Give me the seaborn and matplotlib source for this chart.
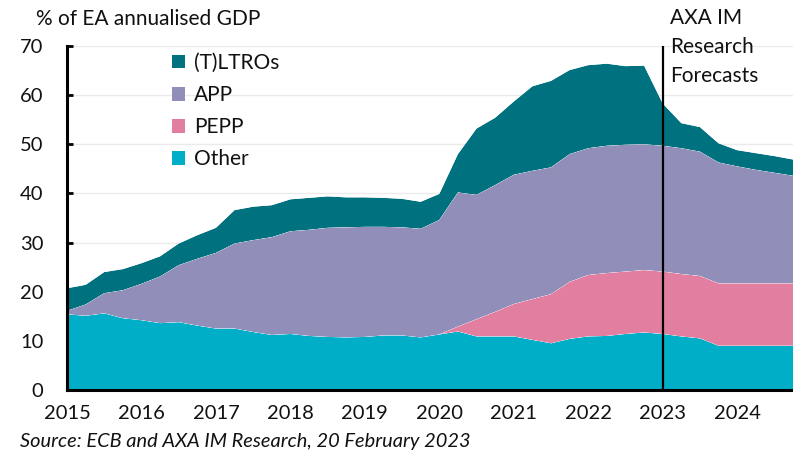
import numpy as np
import pandas as pd
import matplotlib
matplotlib.use("Agg")
import matplotlib.pyplot as plt
from matplotlib.patches import Patch
import seaborn as sns
import seaborn.objects as so

sns.set_theme(style="white")
plt.rcParams['font.family'] = ['Lato', 'DejaVu Sans']

# ---- data (quarterly, % of EA annualised GDP) ----
quarters = pd.period_range("2015Q1", "2024Q4", freq="Q")
other = [15.4, 15.1, 15.6, 14.6, 14.2, 13.6, 13.8, 13.1, 12.5, 12.5,
         11.8, 11.2, 11.4, 11.0, 10.8, 10.7, 10.8, 11.1, 11.1, 10.7,
         11.3, 11.9, 10.9, 10.9, 10.9, 10.2, 9.5, 10.4, 10.9, 11.0,
         11.4, 11.7, 11.4, 10.9, 10.5, 9.0, 9.0, 9.0, 9.0, 9.0]
pepp = [0, 0, 0, 0, 0, 0, 0, 0, 0, 0,
        0, 0, 0, 0, 0, 0, 0, 0, 0, 0,
        0.0, 1.0, 3.5, 5.0, 6.6, 8.3, 10.0, 11.6, 12.5, 12.8,
        12.7, 12.7, 12.7, 12.7, 12.7, 12.7, 12.7, 12.7, 12.7, 12.7]
app = [0.7, 2.3, 4.1, 5.7, 7.4, 9.5, 11.6, 13.6, 15.4, 17.3,
       18.7, 19.9, 20.9, 21.6, 22.2, 22.4, 22.4, 22.1, 22.0, 22.1,
       23.3, 27.3, 25.3, 25.8, 26.3, 26.1, 25.8, 26.0, 25.8, 25.9,
       25.8, 25.6, 25.6, 25.6, 25.3, 24.6, 23.8, 23.1, 22.5, 21.9]
ltro = [4.6, 4.0, 4.3, 4.3, 4.2, 4.1, 4.4, 4.8, 5.1, 6.8,
        6.8, 6.5, 6.5, 6.5, 6.4, 6.1, 6.0, 5.9, 5.8, 5.5,
        5.3, 7.8, 13.5, 13.7, 14.9, 17.2, 17.6, 17.1, 16.9, 16.7,
        16.0, 16.0, 8.6, 5.1, 5.0, 3.9, 3.3, 3.4, 3.4, 3.3]
series_names = ["Other", "PEPP", "APP", "(T)LTROs"]
series_colors = ["#00AEC7", "#E27FA0", "#918FBA", "#00717E"]
year_ticks = list(range(2015, 2025))
forecast_start = 2023.0

xq = [q.year + (q.quarter - 1) / 4 for q in quarters]
frames = []
for name, vals in zip(series_names, [other, pepp, app, ltro]):
    frames.append(pd.DataFrame({"x": xq, "value": vals, "series": name}))
df = pd.concat(frames, ignore_index=True)

W, H = 793, 453
fig = plt.figure(figsize=(W / 100, H / 100), dpi=100)
ax = fig.add_axes([67 / W, 1 - 390 / H, (W - 67) / W, (390 - 46) / H])

(
    so.Plot(df, x="x", y="value", color="series")
    .add(so.Area(alpha=1, edgewidth=0), so.Stack())
    .scale(color=so.Nominal(dict(zip(series_names, series_colors)), order=series_names))
    .on(ax)
    .plot()
)
fig.legends.clear()

ax.set_facecolor("white")
ax.set_xlim(2015, 2024.75)
ax.set_ylim(0, 70)
ax.set_yticks(range(0, 71, 10))
ax.set_xticks(year_ticks)
ax.set_xticklabels([str(y) for y in year_ticks])
ax.set_xlabel("")
ax.set_ylabel("")
ax.grid(axis="y", color="#EBEBEB", linewidth=1.0, zorder=0)
ax.grid(axis="x", visible=False)
ax.set_axisbelow(True)
for c in ax.collections:
    c.set_zorder(2)

for s in ["top", "right"]:
    ax.spines[s].set_visible(False)
for s in ["left", "bottom"]:
    ax.spines[s].set_visible(True)
    ax.spines[s].set_color("black")
    ax.spines[s].set_linewidth(2.2)
    ax.spines[s].set_zorder(5)

ax.tick_params(axis="both", direction="in", length=4.5, width=2, color="black",
               labelsize=14.5, labelcolor="#111111", labelfontfamily="Lato")
ax.tick_params(axis="y", pad=17, left=True)
ax.tick_params(axis="x", pad=11, bottom=True)

ax.axvline(forecast_start, ymin=0, ymax=1, color="black", linewidth=1.6, zorder=6)

handles = [Patch(facecolor=c, edgecolor="none") for c in series_colors[::-1]]
leg = ax.legend(handles, series_names[::-1], loc="upper left",
                bbox_to_anchor=(172 / W, 1 - 53 / H), bbox_transform=fig.transFigure,
                frameon=False, fontsize=15, handlelength=0.62, handleheight=0.62,
                handletextpad=0.42, labelspacing=0.58, borderpad=0, borderaxespad=0)
for t in leg.get_texts():
    t.set_color("#111111")

fig.text(36 / W, 1 - 19 / H, "% of EA annualised GDP", fontsize=15, va="center",
         ha="left", color="#111111")
fig.text(670 / W, 1 - 8 / H, "AXA IM\nResearch\nForecasts", fontsize=15, va="top",
         ha="left", color="#111111", linespacing=1.56)
fig.text(20 / W, 1 - 441 / H, "Source: ECB and AXA IM Research, 20 February 2023",
         fontsize=14.4, style="italic", va="center", ha="left", color="#111111")

fig.savefig("out.png", dpi=100)
